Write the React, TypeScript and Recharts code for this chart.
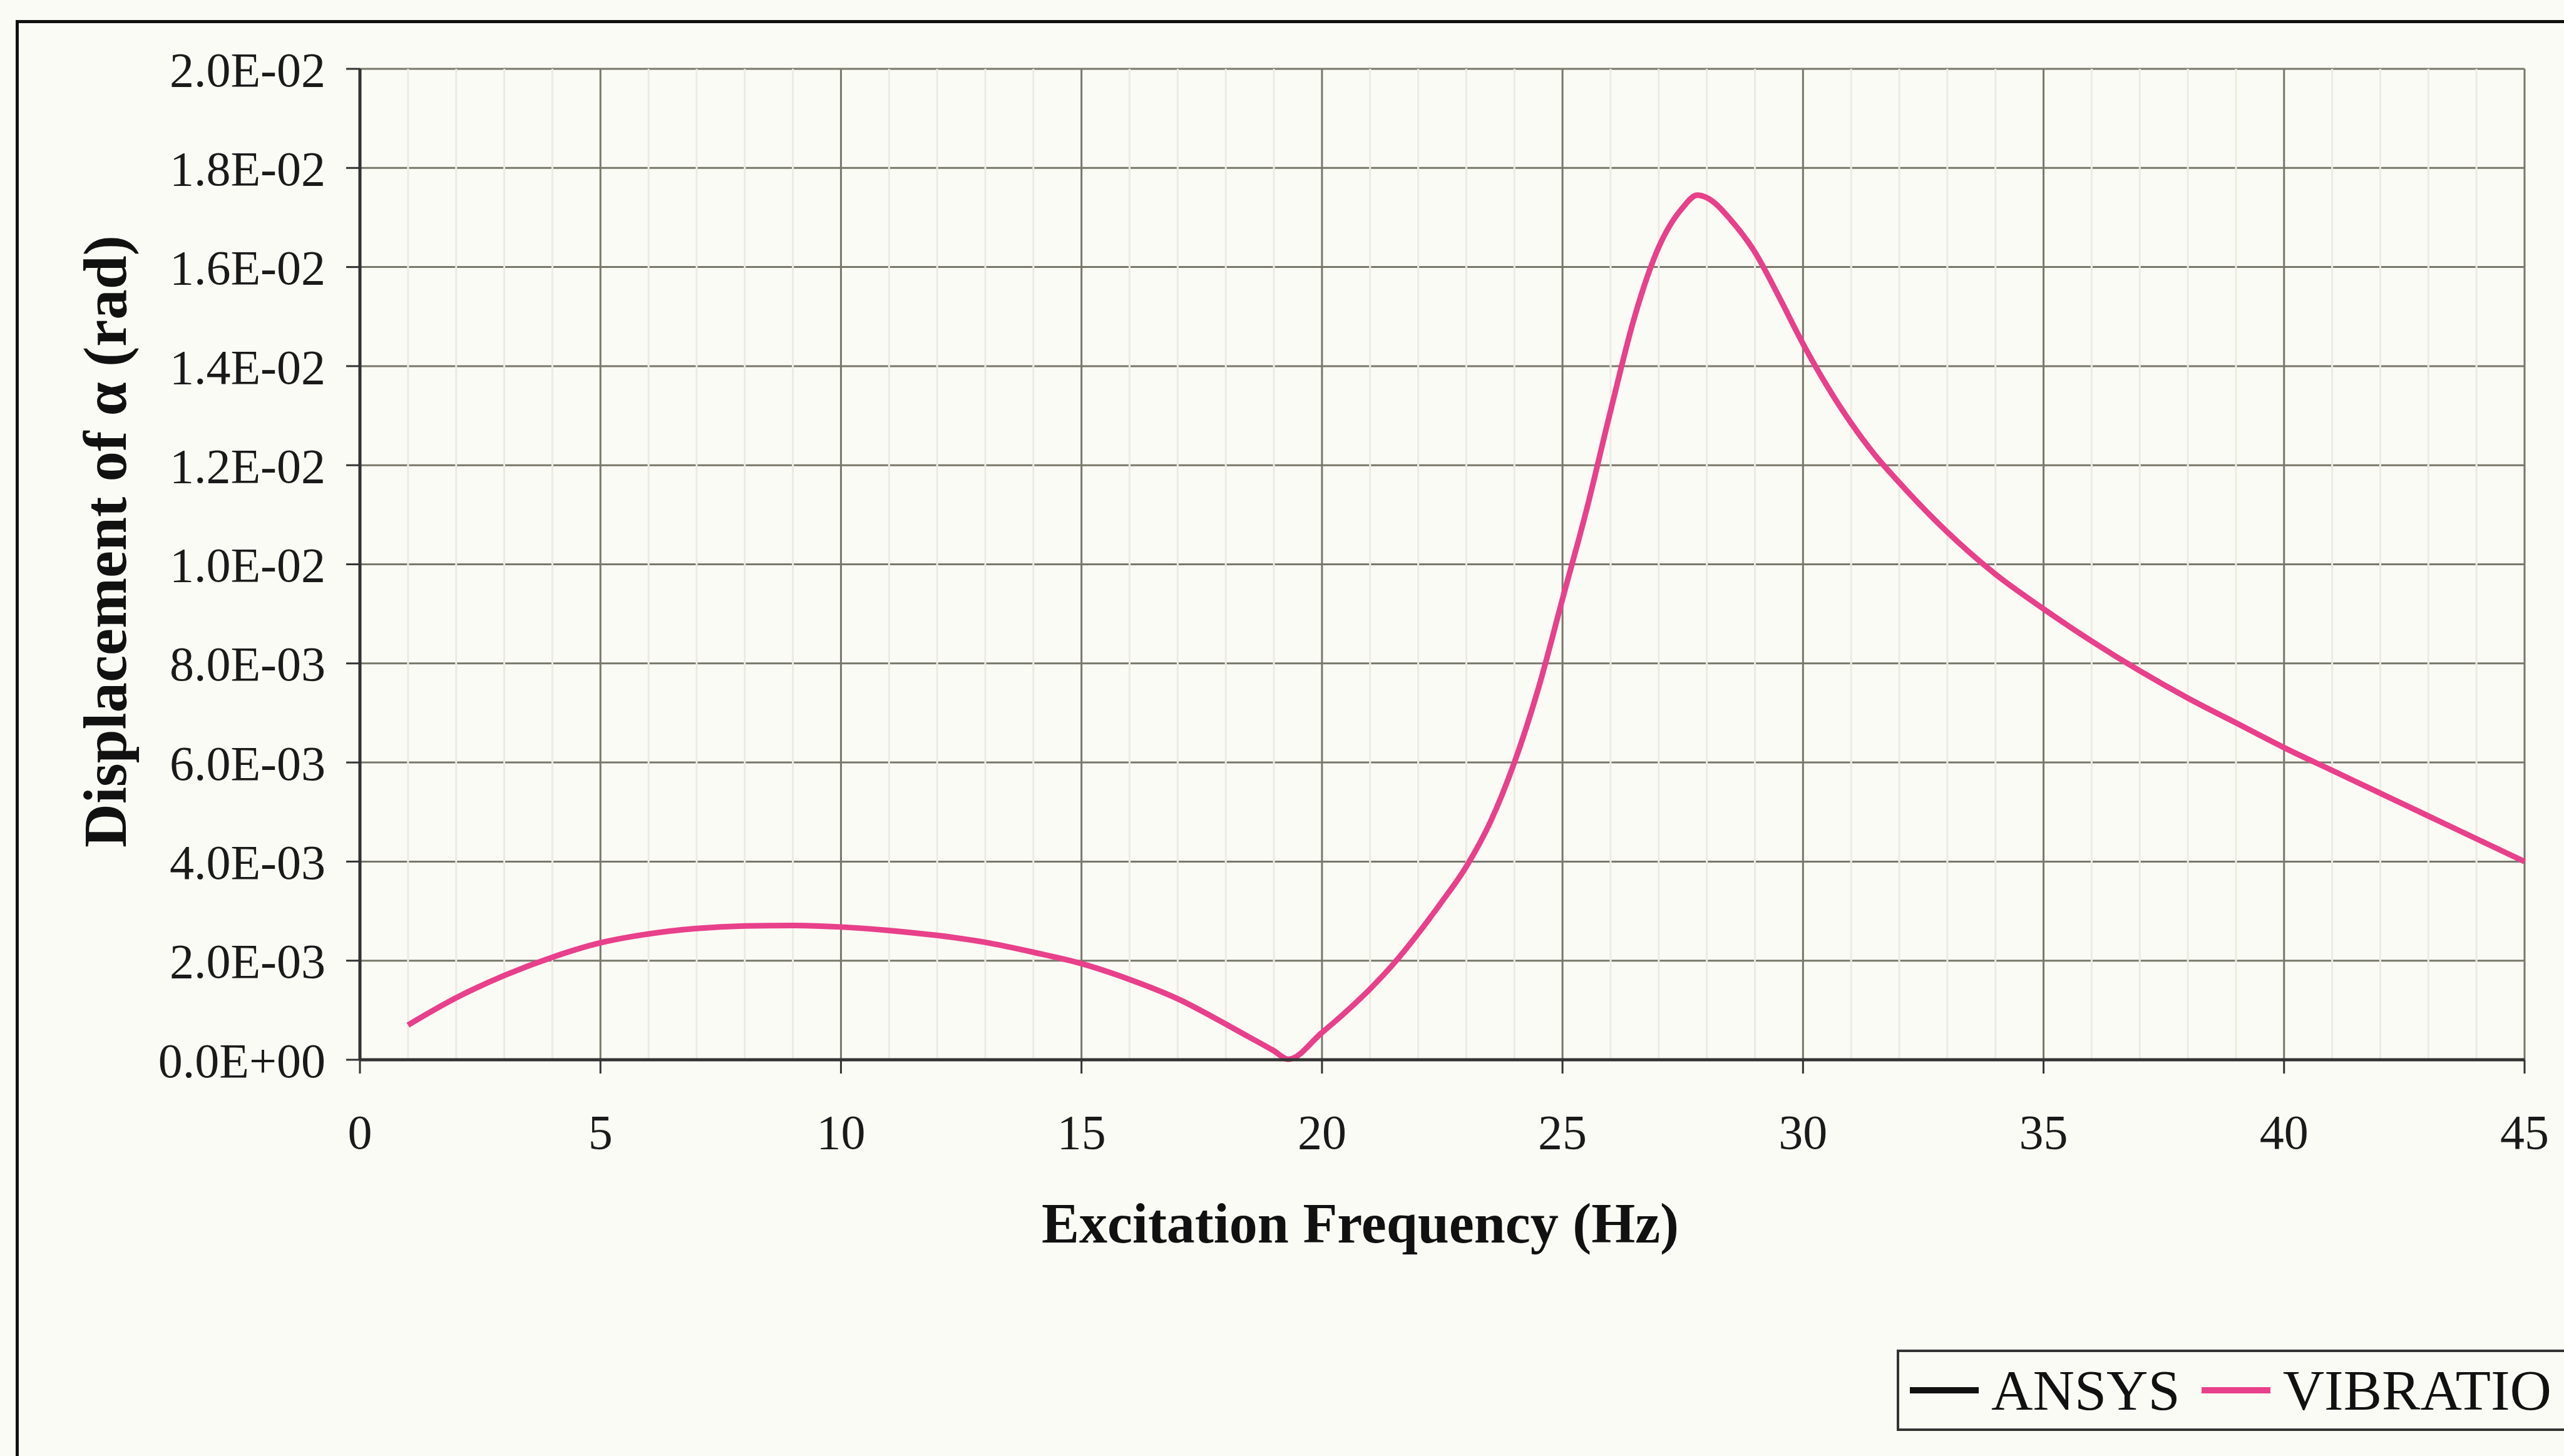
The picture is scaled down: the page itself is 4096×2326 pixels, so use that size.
import { LineChart, Line, XAxis, YAxis, CartesianGrid, ReferenceLine, Legend, Label } from 'recharts'

// excitation frequency (Hz) and displacement of alpha (rad)
const freq = [1, 2, 3, 4, 5, 6, 7, 8, 9, 10, 11, 12, 13, 14, 15, 16, 17, 18, 18.5, 19, 19.3, 20, 20.5, 21, 21.5, 22, 22.5, 23, 23.5, 24, 24.5, 25, 25.5, 26, 26.5, 27, 27.5, 27.8, 28, 28.5, 29, 29.5, 30, 30.5, 31, 31.5, 32, 33, 34, 35, 36, 37, 38, 39, 40, 41, 42, 43, 44, 45]
const vibration = [0.0007, 0.00125, 0.0017, 0.00207, 0.00236, 0.00254, 0.00265, 0.0027, 0.00271, 0.00268, 0.00261, 0.00251, 0.00237, 0.00217, 0.00194, 0.00162, 0.00123, 0.00072, 0.00045, 0.00018, 0.00001, 0.00055, 0.00097, 0.00143, 0.00195, 0.00255, 0.0032, 0.0039, 0.0048, 0.006, 0.0075, 0.0093, 0.0111, 0.0131, 0.015, 0.0164, 0.0172, 0.01745, 0.0174, 0.01695, 0.0163, 0.0154, 0.01445, 0.0136, 0.01285, 0.0122, 0.01165, 0.01065, 0.0098, 0.0091, 0.00845, 0.00785, 0.0073, 0.0068, 0.0063, 0.00584, 0.00538, 0.00492, 0.00446, 0.004]

const xTicks = [0, 5, 10, 15, 20, 25, 30, 35, 40, 45]
const xMinor = [1, 2, 3, 4, 6, 7, 8, 9, 11, 12, 13, 14, 16, 17, 18, 19, 21, 22, 23, 24, 26, 27, 28, 29, 31, 32, 33, 34, 36, 37, 38, 39, 41, 42, 43, 44]
const yTicks = [0, 0.002, 0.004, 0.006, 0.008, 0.01, 0.012, 0.014, 0.016, 0.018, 0.02]

const seriesNames = ['ANSYS', 'VIBRATIO']
const seriesColors = ['#111111', '#e8408a']

const FONT = "'Liberation Serif', 'Times New Roman', serif"
const BG = '#fbfbf5'

const data = freq.map((f, i) => ({ f, vibration: vibration[i] }))

function sci(v: number) {
  const [m, e] = v.toExponential(1).split('e')
  const sign = e.startsWith('-') ? '-' : '+'
  const digits = e.replace(/[+-]/, '').padStart(2, '0')
  return `${m}E${sign}${digits}`
}

function LegendBox() {
  return (
    <div style={{
      display: 'flex', alignItems: 'center', height: 122, width: 1200,
      border: '4px solid #333', background: BG, paddingLeft: 17,
      fontFamily: FONT, fontSize: 92, color: '#111', boxSizing: 'content-box',
    }}>
      {seriesNames.map((name, i) => (
        <div key={name} style={{ display: 'flex', alignItems: 'center', marginRight: i === 0 ? 34 : 0 }}>
          <span style={{ display: 'inline-block', width: 110, height: 10, background: seriesColors[i], marginRight: 20 }} />
          <span style={{ lineHeight: 1 }}>{name}</span>
        </div>
      ))}
    </div>
  )
}

export default function App() {
  return (
    <div style={{ position: 'absolute', left: 0, top: 0, width: 4096, height: 2326, overflow: 'hidden', background: BG }}>
      <div style={{ position: 'absolute', left: 25, top: 32, width: 4300, height: 2500, border: '5px solid #111' }} />
      <div style={{ position: 'absolute', left: 0, top: 0 }}>
        <LineChart width={4096} height={2326} data={data} margin={{ top: 110, right: 63, left: 0, bottom: 0 }}>
          {xMinor.map(m => (
            <ReferenceLine key={m} x={m} stroke="#ebebe2" strokeWidth={3} />
          ))}
          <CartesianGrid stroke="#77776a" strokeWidth={3} />
          <XAxis
            dataKey="f"
            type="number"
            domain={[0, 45]}
            ticks={xTicks}
            interval={0}
            height={633}
            tickSize={22}
            tickMargin={65}
            axisLine={{ stroke: '#333', strokeWidth: 5 }}
            tickLine={{ stroke: '#333', strokeWidth: 3 }}
            tick={{ fill: '#1a1a1a', fontSize: 78, fontFamily: FONT }}
          >
            <Label
              content={({ viewBox }: any) => (
                <text
                  x={viewBox.x + viewBox.width / 2 - 131}
                  y={viewBox.y + 292}
                  textAnchor="middle"
                  fontFamily={FONT}
                  fontWeight="bold"
                  fontSize={90}
                  fill="#111"
                >
                  Excitation Frequency (Hz)
                </text>
              )}
            />
          </XAxis>
          <YAxis
            type="number"
            domain={[0, 0.02]}
            ticks={yTicks}
            interval={0}
            width={575}
            tickSize={22}
            tickMargin={33}
            tickFormatter={sci}
            axisLine={{ stroke: '#333', strokeWidth: 5 }}
            tickLine={{ stroke: '#333', strokeWidth: 3 }}
            tick={{ fill: '#1a1a1a', fontSize: 78, fontFamily: FONT }}
          >
            <Label
              content={() => (
                <text
                  x={168}
                  y={865}
                  transform="rotate(-90 168 865)"
                  textAnchor="middle"
                  dominantBaseline="central"
                  fontFamily={FONT}
                  fontWeight="bold"
                  fontSize={97}
                  fill="#111"
                >
                  Displacement of α (rad)
                </text>
              )}
            />
          </YAxis>
          <Legend
            verticalAlign="middle"
            align="center"
            layout="horizontal"
            content={() => <LegendBox />}
            wrapperStyle={{ position: 'absolute', left: 3030, top: 2156, width: 1200, height: 130 }}
          />
          <Line
            type="monotone"
            dataKey="vibration"
            name="VIBRATIO"
            stroke={seriesColors[1]}
            strokeWidth={9}
            dot={false}
            isAnimationActive={false}
          />
        </LineChart>
      </div>
    </div>
  )
}
